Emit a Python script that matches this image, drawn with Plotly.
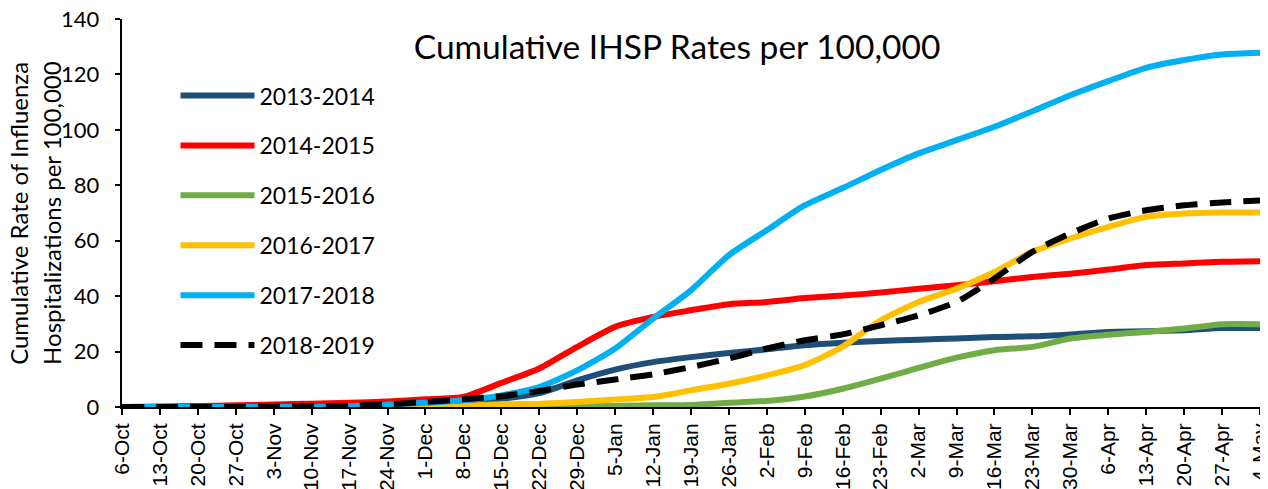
import plotly.graph_objects as go

weeks = ["6-Oct", "13-Oct", "20-Oct", "27-Oct", "3-Nov", "10-Nov", "17-Nov", "24-Nov",
         "1-Dec", "8-Dec", "15-Dec", "22-Dec", "29-Dec", "5-Jan", "12-Jan", "19-Jan",
         "26-Jan", "2-Feb", "9-Feb", "16-Feb", "23-Feb", "2-Mar", "9-Mar", "16-Mar",
         "23-Mar", "30-Mar", "6-Apr", "13-Apr", "20-Apr", "27-Apr", "4-May"]

s2013_2014 = [0, 0, 0, 0.1, 0.2, 0.4, 0.6, 1.0, 1.5, 2.2, 3.0, 5.0, 9.6, 13.5, 16.2, 18.0,
              19.5, 20.8, 22.3, 23.2, 23.8, 24.3, 24.7, 25.3, 25.5, 26.2, 27.1, 27.3, 27.7, 28.5, 28.5]
s2014_2015 = [0, 0.2, 0.4, 0.6, 0.9, 1.2, 1.5, 2.0, 2.8, 3.6, 8.7, 13.9, 21.7, 28.9, 32.5, 34.9,
              37.1, 37.9, 39.3, 40.2, 41.3, 42.7, 43.9, 45.4, 46.9, 48.1, 49.6, 51.2, 51.8, 52.4, 52.6]
s2015_2016 = [0, 0, 0, 0, 0, 0, 0, 0, 0, 0, 0.1, 0.2, 0.3, 0.4, 0.6, 0.7,
              1.5, 2.2, 3.8, 6.6, 10.2, 14.1, 17.8, 20.5, 21.7, 24.7, 26.1, 27.1, 28.3, 29.9, 29.9]
s2016_2017 = [0, 0, 0, 0, 0, 0, 0, 0.1, 0.2, 0.4, 1.0, 1.2, 1.8, 2.7, 3.6, 6.0,
              8.4, 11.4, 15.1, 21.8, 31.3, 37.9, 42.7, 48.7, 56.0, 60.8, 65.0, 68.6, 69.8, 70.2, 70.2]
s2017_2018 = [0, 0, 0, 0, 0, 0, 0.3, 0.8, 1.5, 2.4, 4.2, 7.2, 13.2, 21.1, 31.9, 42.1,
              54.8, 63.8, 72.8, 79.0, 85.5, 91.5, 96.3, 101.1, 106.7, 112.5, 117.6, 122.4, 125.2, 127.2, 127.8]
s2018_2019 = [0, 0, 0, 0, 0.1, 0.2, 0.5, 1.0, 1.8, 2.8, 3.9, 5.8, 8.1, 9.9, 11.8, 14.4,
              17.5, 21.1, 24.1, 26.2, 29.5, 33.1, 37.9, 46.4, 56.0, 62.6, 68.0, 71.0, 72.8, 73.8, 74.5]

y_title_lines = ["Cumulative Rate of Influenza", "Hospitalizations per 100,000"]

series = [
    ("2013-2014", s2013_2014, "#1F4E79", None),
    ("2014-2015", s2014_2015, "#FF0000", None),
    ("2015-2016", s2015_2016, "#70AD47", None),
    ("2016-2017", s2016_2017, "#FFC000", None),
    ("2017-2018", s2017_2018, "#00B0F0", None),
    ("2018-2019", s2018_2019, "#000000", "22px,12px"),
]

fig = go.Figure()
for i, (name, vals, color, dash) in enumerate(series):
    line = dict(color=color, width=6, shape="spline", smoothing=0.6)
    if dash:
        line["dash"] = dash
    fig.add_trace(go.Scatter(x=weeks, y=vals, name=name, mode="lines", line=line,
                             legendgroup=f"g{i}"))

# y-axis title (two rotated lines at the left edge)
for txt, xpos in zip(y_title_lines, [-0.0915, -0.0625]):
    fig.add_annotation(text=txt, xref="paper", yref="paper", x=xpos, y=0.5,
                       xanchor="center", yanchor="middle", textangle=-90,
                       showarrow=False, font=dict(size=24, color="black"))

fig.update_layout(
    width=1260, height=481,
    margin=dict(l=114, r=8, t=11, b=82),
    paper_bgcolor="white", plot_bgcolor="white",
    font=dict(family="Lato, Carlito, sans-serif", color="black"),
    title=dict(text="Cumulative IHSP Rates per 100,000", x=0.531, xanchor="center",
               y=0.919, yanchor="middle", font=dict(size=33.5, color="black")),
    legend=dict(x=0.047, y=0.858, xanchor="left", yanchor="top", bgcolor="rgba(0,0,0,0)",
                font=dict(size=23), tracegroupgap=17, itemwidth=74),
    xaxis=dict(type="category", range=[0, 30], showline=True, linecolor="black", linewidth=2,
               ticks="outside", ticklen=6, tickcolor="black", tickwidth=2, tickangle=-90,
               tickfont=dict(family="Liberation Sans, Arial", size=21), showgrid=False,
               automargin=False, zeroline=False, ticklabeloverflow="allow"),
    yaxis=dict(range=[0, 140], dtick=20, showline=True, linecolor="black", linewidth=2,
               ticks="outside", ticklen=5, tickcolor="black", tickwidth=2,
               tickfont=dict(size=22), showgrid=False, zeroline=False, automargin=False,
               ticksuffix="\u00a0\u00a0", ticklabeloverflow="allow"),
)

fig.write_html("out.html")
